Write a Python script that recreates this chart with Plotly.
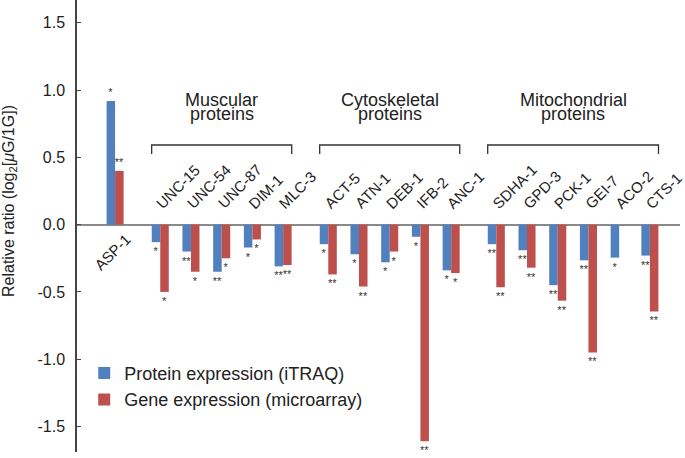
import plotly.graph_objects as go

# ---------------- data ----------------
categories = ["ASP-1",
              "UNC-15", "UNC-54", "UNC-87", "DIM-1", "MLC-3",
              "ACT-5", "ATN-1", "DEB-1", "IFB-2", "ANC-1",
              "SDHA-1", "GPD-3", "PCK-1", "GEI-7", "ACO-2", "CTS-1"]
category_group = [0,
                  1, 1, 1, 1, 1,
                  2, 2, 2, 2, 2,
                  3, 3, 3, 3, 3, 3]
group_titles = ["", "Muscular\nproteins", "Cytoskeletal\nproteins", "Mitochondrial\nproteins"]

protein_expr = [0.92,
                -0.13, -0.20, -0.35, -0.17, -0.31,
                -0.145, -0.22, -0.28, -0.09, -0.34,
                -0.145, -0.19, -0.45, -0.265, -0.245, -0.23]
gene_expr = [0.40,
             -0.50, -0.35, -0.25, -0.11, -0.30,
             -0.37, -0.46, -0.20, -1.61, -0.36,
             -0.465, -0.32, -0.565, -0.95, None, -0.645]
protein_sig = ["*",
               "*", "**", "**", "*", "**",
               "*", "*", "*", "*", "*",
               "**", "**", "**", "**", "*", "**"]
gene_sig = ["**",
            "*", "*", "*", "*", "**",
            "**", "**", "*", "**", "*",
            "**", "**", "**", "**", None, "**"]

y_tickvals = [-1.5, -1.0, -0.5, 0.0, 0.5, 1.0, 1.5]
y_ticktext = ["-1.5", "-1.0", "-0.5", "0.0", "0.5", "1.0", "1.5"]

series_names = ["Protein expression (iTRAQ)", "Gene expression (microarray)"]
y_title = "Relative ratio (log<sub>2</sub>[<i>μ</i>G/1G])"

# ---------------- layout helpers ----------------
GROUP_GAP = 1.47
xpos = []
cur = 0.0
for i, g in enumerate(category_group):
    if i > 0:
        cur += GROUP_GAP if g != category_group[i - 1] else 1.0
    xpos.append(cur)

BLUE = "#5080BE"
RED = "#BD504D"
FONT = "Liberation Sans, Arial, Helvetica, sans-serif"
DARK = "#222222"

fig = go.Figure()
fig.add_trace(go.Bar(
    x=xpos, y=protein_expr, name=series_names[0],
    marker=dict(color=BLUE, line=dict(width=0)),
    text=protein_sig, textposition="outside", constraintext="none",
    textfont=dict(size=11, color="#333333", family=FONT),
    cliponaxis=False,
))
fig.add_trace(go.Bar(
    x=xpos, y=gene_expr, name=series_names[1],
    marker=dict(color=RED, line=dict(width=0)),
    text=gene_sig, textposition="outside", constraintext="none",
    textfont=dict(size=11, color="#333333", family=FONT),
    cliponaxis=False,
))

annotations = []
shapes = []

# category labels (on opposite side of bars)
for x, name, p in zip(xpos, categories, protein_expr):
    if p >= 0:
        annotations.append(dict(
            x=x, y=0, xref="x", yref="y", text=name, showarrow=False,
            textangle=-45, xanchor="right", yanchor="top",
            xshift=21, yshift=-4,
            font=dict(size=15, color=DARK, family=FONT)))
    else:
        annotations.append(dict(
            x=x, y=0, xref="x", yref="y", text=name, showarrow=False,
            textangle=-45, xanchor="left", yanchor="bottom",
            xshift=-10, yshift=10,
            font=dict(size=15, color=DARK, family=FONT)))

# group brackets and titles
HALF = 0.28
for gi, title in enumerate(group_titles):
    if not title:
        continue
    gx = [x for x, g in zip(xpos, category_group) if g == gi]
    x0, x1 = min(gx) - HALF, max(gx) + HALF
    shapes.append(dict(
        type="path", xref="x", yref="y",
        path=f"M {x0},0.525 L {x0},0.592 L {x1},0.592 L {x1},0.525",
        line=dict(color="#333333", width=1.3)))
    lines = title.split("\n")
    for li, line in enumerate(lines):
        annotations.append(dict(
            x=(x0 + x1) / 2, y=0.93 - li * 0.11, xref="x", yref="y",
            text=line, showarrow=False, xanchor="center", yanchor="middle",
            font=dict(size=18, color=DARK, family=FONT)))

# y-axis title
annotations.append(dict(
    x=-0.113, y=0.555, xref="paper", yref="paper", text=y_title,
    showarrow=False, textangle=-90, xanchor="center", yanchor="middle",
    font=dict(size=16, color=DARK, family=FONT)))

fig.update_layout(
    width=685, height=458,
    margin=dict(l=77, r=5, t=0, b=6, autoexpand=False),
    paper_bgcolor="white", plot_bgcolor="white",
    barmode="group", bargap=0.445, bargroupgap=0,
    font=dict(family=FONT, color=DARK),
    showlegend=True,
    legend=dict(x=0.012, y=0.215, xanchor="left", yanchor="top",
                font=dict(size=18, color=DARK, family=FONT),
                bgcolor="rgba(0,0,0,0)", tracegroupgap=0),
    annotations=annotations,
    shapes=shapes,
)
fig.update_xaxes(range=[-1.24, xpos[-1] + 0.98], showticklabels=False,
                 showgrid=False, zeroline=False, showline=False, ticks="",
                 automargin=False)
fig.update_yaxes(range=[-1.69, 1.67], tickvals=y_tickvals, ticktext=y_ticktext,
                 automargin=False,
                 showgrid=False, zeroline=True, zerolinecolor="#8a8a8a",
                 zerolinewidth=1.5, showline=True, linecolor="#444444",
                 linewidth=1.5, ticks="inside", ticklen=4, tickcolor="#444444",
                 ticklabelstandoff=7,
                 tickfont=dict(size=16, color=DARK, family=FONT))

fig.write_html(
    "out.html",
    config={"displayModeBar": False},
    post_script="document.body.style.margin='0';document.body.style.padding='0';",
)
